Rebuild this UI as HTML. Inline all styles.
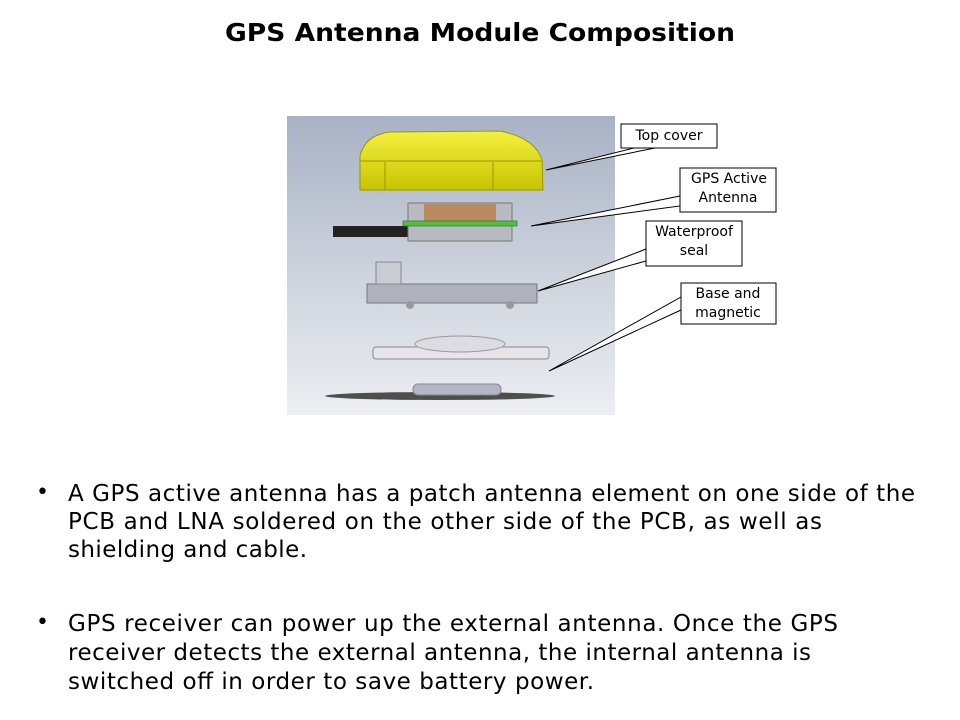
<!DOCTYPE html>
<html><head><meta charset="utf-8"><style>
body{margin:0;width:960px;height:720px;background:#fff;position:relative;overflow:hidden;font-family:"DejaVu Sans","Liberation Sans",sans-serif;}
</style></head><body>
<svg width="960" height="720" style="position:absolute;left:0;top:0">
<defs>
<linearGradient id="bg" x1="0" y1="0" x2="0" y2="1">
<stop offset="0" stop-color="#a8b2c5"/><stop offset="0.6" stop-color="#d2d7e0"/><stop offset="1" stop-color="#eceef2"/>
</linearGradient>
<linearGradient id="yl" x1="0" y1="0" x2="0" y2="1"><stop offset="0" stop-color="#f4f040"/><stop offset="1" stop-color="#c8c400"/></linearGradient>
</defs>
<text x="225" y="41" font-family="DejaVu Sans, sans-serif" font-weight="bold" font-size="25" textLength="510" lengthAdjust="spacingAndGlyphs">GPS Antenna Module Composition</text>
<rect x="287" y="116" width="328" height="299" fill="url(#bg)"/>
<path d="M360 190 L360 156 Q365 135 390 132 L500 131 Q535 138 542 160 L543 190 Z" fill="url(#yl)" stroke="#9a9600"/>
<line x1="360" y1="161" x2="543" y2="161" stroke="#9a9600"/>
<line x1="385" y1="162" x2="385" y2="190" stroke="#9a9600"/>
<line x1="493" y1="162" x2="493" y2="190" stroke="#9a9600"/>
<rect x="333" y="226" width="80" height="11" fill="#222"/>
<rect x="408" y="203" width="104" height="38" fill="#b8bac2" stroke="#777"/>
<rect x="424" y="204" width="72" height="22" fill="#b98a60"/>
<rect x="403" y="221" width="114" height="5" fill="#4fc040" stroke="#2a7a20" stroke-width="0.7"/>
<rect x="367" y="284" width="170" height="19" fill="#aeb2bd" stroke="#777"/>
<rect x="376" y="262" width="25" height="22" fill="#c9ccd3" stroke="#888"/>
<circle cx="410" cy="305" r="4" fill="#999"/><circle cx="510" cy="305" r="4" fill="#999"/>
<rect x="373" y="347" width="176" height="12" rx="3" fill="#e6e6ea" stroke="#888"/>
<ellipse cx="460" cy="344" rx="45" ry="8" fill="#dcdce2" stroke="#999"/>
<ellipse cx="440" cy="396" rx="115" ry="4" fill="#333" opacity="0.85"/>
<rect x="413" y="384" width="88" height="11" rx="5" fill="#b4b6c8" stroke="#888"/>
<g fill="#fff" stroke="#000" stroke-width="1">
<polygon points="638,147 660,147 546,170"/>
<polygon points="680,196 680,206 531,226"/>
<polygon points="646,249 646,261 538,291"/>
<polygon points="681,297 681,310 549,371"/>
<rect x="621" y="124" width="96" height="24"/>
<rect x="680" y="168" width="96" height="44"/>
<rect x="646" y="221" width="96" height="45"/>
<rect x="681" y="283" width="95" height="41"/>
</g>
<g font-family="DejaVu Sans, sans-serif" font-size="14" text-anchor="middle" fill="#000">
<text x="669" y="140">Top cover</text>
<text x="729" y="183">GPS Active</text><text x="728" y="202">Antenna</text>
<text x="694" y="236">Waterproof</text><text x="694" y="255">seal</text>
<text x="728" y="298">Base and</text><text x="728" y="317">magnetic</text>
</g>
<g font-family="DejaVu Sans, sans-serif" font-size="23" fill="#000">
<text x="36" y="499" font-size="22">•</text>
<text x="68" y="501" textLength="847" lengthAdjust="spacing">A GPS active antenna has a patch antenna element on one side of the</text>
<text x="68" y="529" textLength="754" lengthAdjust="spacing">PCB and LNA soldered on the other side of the PCB, as well as</text>
<text x="68" y="557" textLength="239" lengthAdjust="spacing">shielding and cable.</text>
<text x="36" y="629" font-size="22">•</text>
<text x="68" y="631" textLength="770" lengthAdjust="spacing">GPS receiver can power up the external antenna. Once the GPS</text>
<text x="68" y="660" textLength="743" lengthAdjust="spacing">receiver detects the external antenna, the internal antenna is</text>
<text x="68" y="689" textLength="526" lengthAdjust="spacing">switched off in order to save battery power.</text>
</g>
</svg>
</body></html>
